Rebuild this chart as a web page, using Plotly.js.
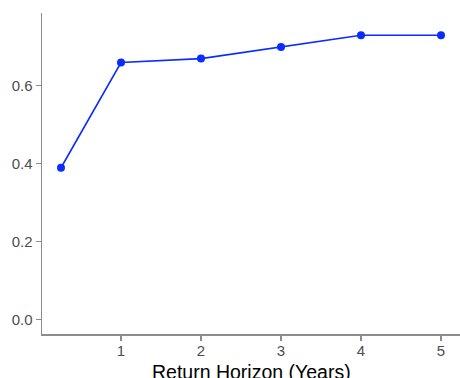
<!DOCTYPE html>
<html><head><meta charset="utf-8">
<script src="https://cdn.plot.ly/plotly-3.0.1.min.js"></script>
<style>html,body{margin:0;padding:0;background:#fff}#chart{width:460px;height:378px}</style>
</head><body><div id="chart"></div>
<script>
const horizons = [0.25, 1, 2, 3, 4, 5];
const values = [0.39, 0.66, 0.67, 0.70, 0.73, 0.73];
const xTicks = [1, 2, 3, 4, 5];
const yTicks = [0.0, 0.2, 0.4, 0.6];
const xTitle = 'Return Horizon (Years)';

const axisColor = '#8c8c8c';
const trace = {
  x: horizons, y: values, type: 'scatter', mode: 'lines+markers',
  line: {color: '#0a2cff', width: 1.6},
  marker: {color: '#0a2cff', size: 8},
  hoverinfo: 'skip'
};
const layout = {
  width: 460, height: 378,
  margin: {l: 42, r: 0, t: 13, b: 44},
  paper_bgcolor: '#fff', plot_bgcolor: '#fff',
  font: {family: 'Liberation Sans, Arial, sans-serif'},
  showlegend: false,
  xaxis: {
    range: [0.0125, 5.2375], tickvals: xTicks, ticktext: xTicks.map(String),
    showgrid: false, zeroline: false, showline: true, linecolor: axisColor, linewidth: 1.5,
    ticks: 'outside', ticklen: 5, tickcolor: axisColor, tickwidth: 1.2,
    tickfont: {size: 15, color: '#4d4d4d'}, ticklabelstandoff: -3,
    automargin: false
  },
  yaxis: {
    range: [-0.0365, 0.787], tickvals: yTicks, ticktext: yTicks.map(v => v.toFixed(1)),
    showgrid: false, zeroline: false, showline: true, linecolor: axisColor, linewidth: 1.5,
    ticks: 'outside', ticklen: 5, tickcolor: axisColor, tickwidth: 1.2,
    tickfont: {size: 15, color: '#4d4d4d'},
    automargin: false
  },
  annotations: [{
    text: xTitle, xref: 'paper', yref: 'paper', x: 0.5, y: 0,
    xanchor: 'center', yanchor: 'top', yshift: -25, showarrow: false,
    font: {size: 19.5, color: '#000'}
  }]
};
Plotly.newPlot('chart', [trace], layout, {displayModeBar: false, staticPlot: true});
</script></body></html>
